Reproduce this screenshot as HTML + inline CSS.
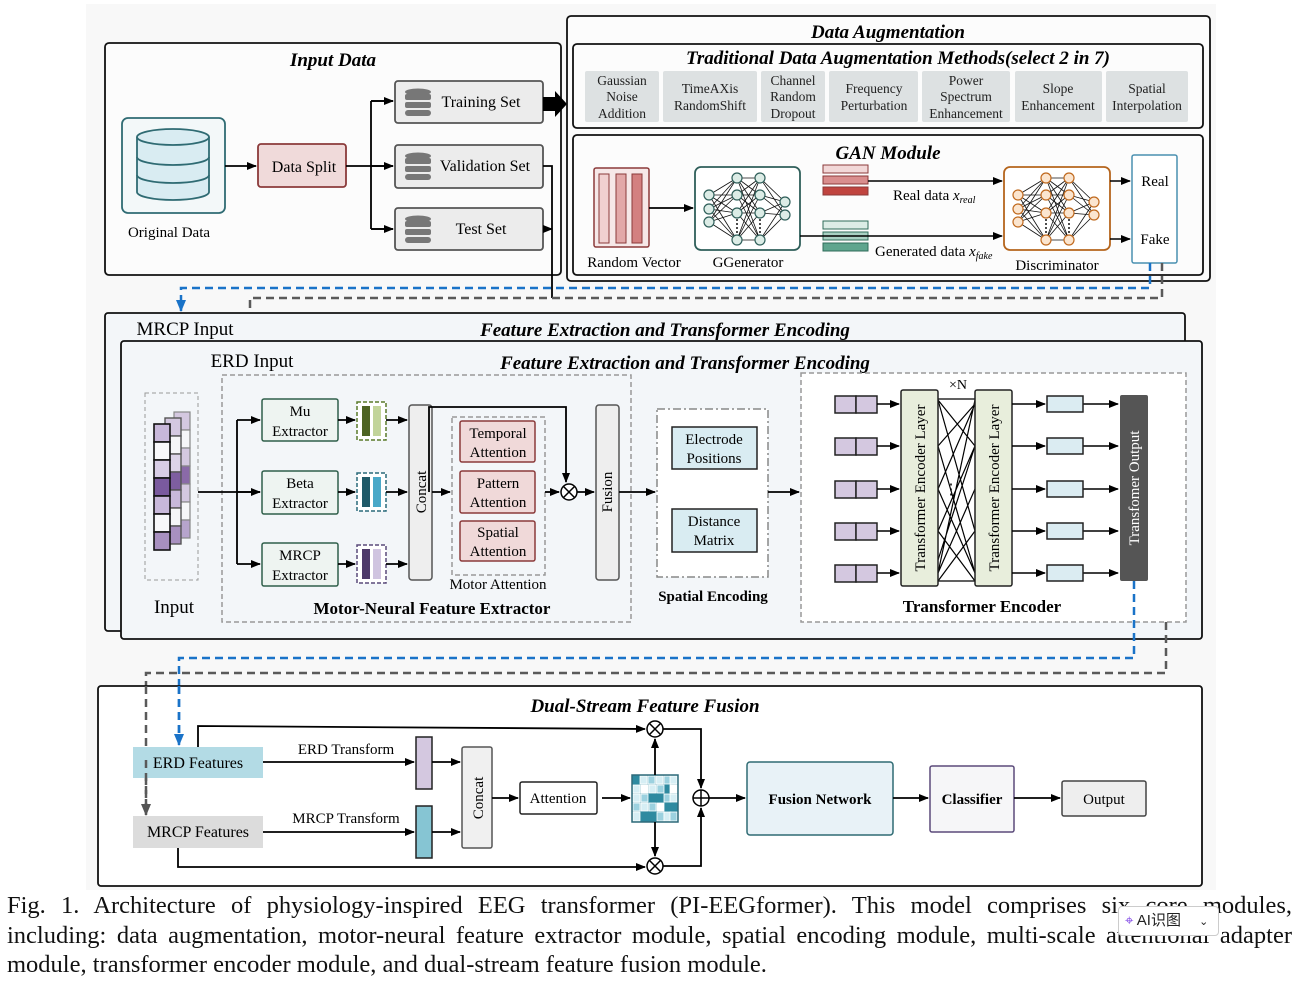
<!DOCTYPE html>
<html><head><meta charset="utf-8"><style>
html,body{margin:0;padding:0;background:#fff;}
body{width:1302px;height:985px;position:relative;overflow:hidden;font-family:"Liberation Serif",serif;}
svg{position:absolute;left:0;top:0;}
.cap{position:absolute;left:7px;width:1285px;font-size:24.5px;line-height:29px;color:#111;text-align:justify;text-align-last:justify;white-space:nowrap;}
.badge{position:absolute;left:1118px;top:906px;width:99px;height:28px;background:#fff;border:1px solid #ccc;border-radius:4px;font-family:"Liberation Sans","Noto Sans CJK SC",sans-serif;font-size:15px;line-height:28px;color:#222;}
</style></head><body>
<svg width="1302" height="985" viewBox="0 0 1302 985" font-family="Liberation Serif, serif">
<defs>
<marker id="a" markerWidth="10" markerHeight="8" refX="9" refY="4" orient="auto" markerUnits="userSpaceOnUse"><path d="M0,0 L10,4 L0,8z" fill="#000"/></marker>
<marker id="ab" markerWidth="12" markerHeight="10" refX="11" refY="5" orient="auto" markerUnits="userSpaceOnUse"><path d="M0,0 L12,5 L0,10z" fill="#1a73c8"/></marker>
<marker id="ag" markerWidth="12" markerHeight="10" refX="11" refY="5" orient="auto" markerUnits="userSpaceOnUse"><path d="M0,0 L12,5 L0,10z" fill="#555"/></marker>
<g id="db"><ellipse cx="13" cy="4" rx="13" ry="3.5" fill="#777"/><rect x="0" y="6" width="26" height="6" rx="2" fill="#777"/><rect x="0" y="14" width="26" height="6" rx="2" fill="#777"/><rect x="0" y="22" width="26" height="6" rx="3" fill="#777"/></g>
<g id="nnl" stroke="#111" stroke-width="0.8">
<path d="M14,28L42,11M14,28L42,28M14,28L42,46M14,28L42,73M14,42L42,11M14,42L42,28M14,42L42,46M14,42L42,73M14,55L42,11M14,55L42,28M14,55L42,46M14,55L42,73"/>
<path d="M42,11L65,11M42,11L65,28M42,11L65,46M42,11L65,73M42,28L65,11M42,28L65,28M42,28L65,46M42,28L65,73M42,46L65,11M42,46L65,28M42,46L65,46M42,46L65,73M42,73L65,11M42,73L65,28M42,73L65,46M42,73L65,73"/>
<path d="M65,11L90,35M65,11L90,48M65,28L90,35M65,28L90,48M65,46L90,35M65,46L90,48M65,73L90,35M65,73L90,48"/>
<path d="M42,52V68M65,52V68" stroke-dasharray="2,2" stroke-width="1.5"/>
</g>
<g id="nng"><use href="#nnl"/><g fill="#dcece6" stroke="#2f5f5a" stroke-width="1.2">
<circle cx="14" cy="28" r="5"/><circle cx="14" cy="42" r="5"/><circle cx="14" cy="55" r="5"/>
<circle cx="42" cy="11" r="5"/><circle cx="42" cy="28" r="5"/><circle cx="42" cy="46" r="5"/><circle cx="42" cy="73" r="5"/>
<circle cx="65" cy="11" r="5"/><circle cx="65" cy="28" r="5"/><circle cx="65" cy="46" r="5"/><circle cx="65" cy="73" r="5"/>
<circle cx="90" cy="35" r="5"/><circle cx="90" cy="48" r="5"/></g></g>
<g id="nno"><use href="#nnl"/><g fill="#fbe5cf" stroke="#c06a1f" stroke-width="1.2">
<circle cx="14" cy="28" r="5"/><circle cx="14" cy="42" r="5"/><circle cx="14" cy="55" r="5"/>
<circle cx="42" cy="11" r="5"/><circle cx="42" cy="28" r="5"/><circle cx="42" cy="46" r="5"/><circle cx="42" cy="73" r="5"/>
<circle cx="65" cy="11" r="5"/><circle cx="65" cy="28" r="5"/><circle cx="65" cy="46" r="5"/><circle cx="65" cy="73" r="5"/>
<circle cx="90" cy="35" r="5"/><circle cx="90" cy="48" r="5"/></g></g>
<g id="ot"><circle r="8" fill="#fff" stroke="#000" stroke-width="1.5"/><path d="M-5.6,-5.6L5.6,5.6M5.6,-5.6L-5.6,5.6" stroke="#000" stroke-width="1.5"/></g>
<g id="tokA"><rect x="0" y="0" width="21" height="17" fill="#d4c8e0" stroke="#222" stroke-width="1.5"/><rect x="21" y="0" width="21" height="17" fill="#d4c8e0" stroke="#222" stroke-width="1.5"/></g>
<g id="tokB"><rect x="0" y="0" width="36" height="16" fill="#dbecf2" stroke="#222" stroke-width="1.5"/></g>
</defs>

<rect x="86" y="4" width="1130" height="886" fill="#f8f8f8"/>

<rect x="105" y="43" width="456" height="232" rx="4" fill="#fcfcfc" stroke="#111" stroke-width="1.8"/>
<text x="333" y="66" font-size="19" font-weight="bold" font-style="italic" text-anchor="middle">Input Data</text>
<rect x="122" y="118" width="103" height="95" rx="6" fill="#f3f8f9" stroke="#2f6b73" stroke-width="1.8"/>
<path d="M137,137 V192 A36,8 0 0 0 209,192 V137" fill="#d9ecf2" stroke="#2f6b73" stroke-width="1.8"/>
<ellipse cx="173" cy="137" rx="36" ry="8" fill="#d9ecf2" stroke="#2f6b73" stroke-width="1.8"/>
<path d="M137,157 A36,8 0 0 0 209,157 M137,175 A36,8 0 0 0 209,175" fill="none" stroke="#2f6b73" stroke-width="1.8"/>
<text x="169" y="237" font-size="15" text-anchor="middle">Original Data</text>
<rect x="258" y="144" width="88" height="43" rx="3" fill="#f0dada" stroke="#8b3a3a" stroke-width="1.8"/>
<text x="304" y="172" font-size="16" text-anchor="middle">Data Split</text>
<path d="M225,166H256" stroke="#000" stroke-width="1.8" marker-end="url(#a)"/>
<path d="M346,166H393M371,101V229M371,101H393M371,229H393" stroke="#000" stroke-width="1.8" fill="none"/>
<path d="M371,101H393" stroke="#000" stroke-width="1.8" marker-end="url(#a)"/>
<path d="M371,166H393" stroke="#000" stroke-width="1.8" marker-end="url(#a)"/>
<path d="M371,229H393" stroke="#000" stroke-width="1.8" marker-end="url(#a)"/>
<rect x="395" y="81" width="148" height="42" rx="3" fill="#ececec" stroke="#555" stroke-width="1.8"/>
<rect x="395" y="145" width="148" height="43" rx="3" fill="#ececec" stroke="#555" stroke-width="1.8"/>
<rect x="395" y="208" width="148" height="42" rx="3" fill="#ececec" stroke="#555" stroke-width="1.8"/>
<use href="#db" x="405" y="88"/><use href="#db" x="405" y="152"/><use href="#db" x="405" y="215"/>
<text x="481" y="107" font-size="16" text-anchor="middle">Training Set</text>
<text x="485" y="171" font-size="16" text-anchor="middle">Validation Set</text>
<text x="481" y="234" font-size="16" text-anchor="middle">Test Set</text>
<path d="M543,97H555V91L567,104L555,117V111H543z" fill="#000"/>
<path d="M543,166H552V298M543,229H552" stroke="#000" stroke-width="1.8" fill="none" marker-end="url(#a)"/>

<rect x="567" y="16" width="643" height="265" rx="4" fill="#fcfcfc" stroke="#111" stroke-width="1.8"/>
<text x="888" y="38" font-size="19" font-weight="bold" font-style="italic" text-anchor="middle">Data Augmentation</text>
<rect x="573" y="44" width="630" height="84" rx="4" fill="#fcfcfc" stroke="#111" stroke-width="1.8"/>
<text x="898" y="64" font-size="19" font-weight="bold" font-style="italic" text-anchor="middle">Traditional Data Augmentation Methods(select 2 in 7)</text>
<g fill="#dde1e2"><rect x="585" y="71" width="74" height="51" rx="2"/><rect x="663" y="71" width="94" height="51" rx="2"/><rect x="761" y="71" width="64" height="51" rx="2"/><rect x="829" y="71" width="89" height="51" rx="2"/><rect x="922" y="71" width="88" height="51" rx="2"/><rect x="1015" y="71" width="87" height="51" rx="2"/><rect x="1106" y="71" width="82" height="51" rx="2"/></g>
<g font-size="13.5" text-anchor="middle" fill="#222">
<text x="622" y="85">Gaussian</text><text x="622" y="101">Noise</text><text x="622" y="118">Addition</text>
<text x="710" y="93">TimeAXis</text><text x="710" y="110">RandomShift</text>
<text x="793" y="85">Channel</text><text x="793" y="101">Random</text><text x="793" y="118">Dropout</text>
<text x="874" y="93">Frequency</text><text x="874" y="110">Perturbation</text>
<text x="966" y="85">Power</text><text x="966" y="101">Spectrum</text><text x="966" y="118">Enhancement</text>
<text x="1058" y="93">Slope</text><text x="1058" y="110">Enhancement</text>
<text x="1147" y="93">Spatial</text><text x="1147" y="110">Interpolation</text></g>
<rect x="573" y="135" width="630" height="140" rx="4" fill="#fcfcfc" stroke="#111" stroke-width="1.8"/>
<text x="888" y="159" font-size="19" font-weight="bold" font-style="italic" text-anchor="middle">GAN Module</text>
<rect x="594" y="168" width="55" height="79" rx="2" fill="#f6e8e8" stroke="#8b3a3a" stroke-width="1.5"/>
<rect x="599" y="174" width="10" height="69" fill="#f0d0d0" stroke="#8b3a3a"/><rect x="616" y="174" width="10" height="69" fill="#e2a8a8" stroke="#8b3a3a"/><rect x="632" y="174" width="10" height="69" fill="#d38080" stroke="#8b3a3a"/>
<text x="634" y="267" font-size="15" text-anchor="middle">Random Vector</text>
<path d="M649,208H693" stroke="#000" stroke-width="1.8" marker-end="url(#a)"/>
<rect x="695" y="167" width="105" height="83" rx="6" fill="#fff" stroke="#2f5f5a" stroke-width="1.8"/>
<use href="#nng" x="695" y="167"/>
<text x="748" y="267" font-size="15" text-anchor="middle">GGenerator</text>
<rect x="823" y="165" width="45" height="8" fill="#f2d8d8" stroke="#8b3a3a"/><rect x="823" y="176" width="45" height="8" fill="#d98e8e" stroke="#8b3a3a"/><rect x="823" y="187" width="45" height="8" fill="#c0443f" stroke="#8b3a3a"/>
<rect x="823" y="221" width="45" height="8" fill="#dcece6" stroke="#2f6b5a"/><rect x="823" y="232" width="45" height="8" fill="#a9d0c3" stroke="#2f6b5a"/><rect x="823" y="243" width="45" height="8" fill="#5fa58e" stroke="#2f6b5a"/>
<path d="M868,181H1002" stroke="#000" stroke-width="1.5" marker-end="url(#a)"/>
<path d="M800,236H1002" stroke="#000" stroke-width="1.5" marker-end="url(#a)"/>
<text x="893" y="200" font-size="15">Real data <tspan font-style="italic">x</tspan><tspan font-style="italic" font-size="10" dy="3">real</tspan></text>
<text x="875" y="256" font-size="15">Generated data <tspan font-style="italic">x</tspan><tspan font-style="italic" font-size="10" dy="3">fake</tspan></text>
<rect x="1004" y="167" width="106" height="83" rx="6" fill="#fff" stroke="#b5651d" stroke-width="1.8"/>
<use href="#nno" x="1004" y="167"/>
<text x="1057" y="270" font-size="15" text-anchor="middle">Discriminator</text>
<path d="M1110,239H1130" stroke="#000" stroke-width="1.5" marker-end="url(#a)"/>
<path d="M1110,181H1130" stroke="#000" stroke-width="1.5" marker-end="url(#a)"/>
<rect x="1132" y="155" width="45" height="108" rx="2" fill="#fff" stroke="#4a90b0" stroke-width="1.5"/>
<text x="1155" y="186" font-size="15" text-anchor="middle">Real</text>
<text x="1155" y="244" font-size="15" text-anchor="middle">Fake</text>

<path d="M1150,263V288H181V311" stroke="#1a73c8" stroke-width="2.5" fill="none" stroke-dasharray="8,5" marker-end="url(#ab)"/>
<path d="M1162,263V298H250V343" stroke="#5a5a5a" stroke-width="2.5" fill="none" stroke-dasharray="8,5" marker-end="url(#ag)"/>

<rect x="105" y="313" width="1080" height="318" rx="3" fill="#f3f6f9" stroke="#111" stroke-width="1.8"/>
<text x="665" y="336" font-size="19" font-weight="bold" font-style="italic" text-anchor="middle">Feature  Extraction and Transformer Encoding</text>
<text x="185" y="335" font-size="19" text-anchor="middle">MRCP Input</text>
<rect x="121" y="341" width="1081" height="298" rx="3" fill="#f3f6f9" stroke="#111" stroke-width="1.8"/>
<text x="685" y="369" font-size="19" font-weight="bold" font-style="italic" text-anchor="middle">Feature  Extraction and Transformer Encoding</text>
<text x="252" y="367" font-size="19" text-anchor="middle">ERD Input</text>

<rect x="145" y="393" width="53" height="187" fill="none" stroke="#999" stroke-dasharray="4,3"/>
<g stroke="#888" stroke-width="1.2">
<rect x="174" y="412" width="16" height="18" fill="#d4c8e0"/><rect x="174" y="430" width="16" height="18" fill="#f6f6f8"/><rect x="174" y="448" width="16" height="18" fill="#d4c8e0"/><rect x="174" y="466" width="16" height="18" fill="#8a6aa8"/><rect x="174" y="484" width="16" height="18" fill="#d4c8e0"/><rect x="174" y="502" width="16" height="18" fill="#f6f6f8"/><rect x="174" y="520" width="16" height="18" fill="#b6a4cc"/></g>
<g stroke="#555" stroke-width="1.4">
<rect x="165" y="418" width="16" height="18" fill="#d4c8e0"/><rect x="165" y="436" width="16" height="18" fill="#f6f6f8"/><rect x="165" y="454" width="16" height="18" fill="#ddd4e8"/><rect x="165" y="472" width="16" height="18" fill="#7e5ea0"/><rect x="165" y="490" width="16" height="18" fill="#c8b8da"/><rect x="165" y="508" width="16" height="18" fill="#f6f6f8"/><rect x="165" y="526" width="16" height="18" fill="#a890c0"/></g>
<g stroke="#111" stroke-width="1.6">
<rect x="154" y="424" width="16" height="18" fill="#c8b8da"/><rect x="154" y="442" width="16" height="18" fill="#f8f8fa"/><rect x="154" y="460" width="16" height="18" fill="#d8cde6"/><rect x="154" y="478" width="16" height="18" fill="#7a5a9e"/><rect x="154" y="496" width="16" height="18" fill="#c8b8da"/><rect x="154" y="514" width="16" height="18" fill="#f8f8fa"/><rect x="154" y="532" width="16" height="18" fill="#a890c0"/></g>
<text x="174" y="613" font-size="19" text-anchor="middle">Input</text>

<rect x="222" y="375" width="409" height="247" fill="none" stroke="#999" stroke-width="1.5" stroke-dasharray="5,3"/>
<text x="432" y="614" font-size="17" font-weight="bold" text-anchor="middle">Motor-Neural Feature Extractor</text>
<path d="M198,492H260M237,420V564" stroke="#000" stroke-width="1.8" fill="none"/>
<path d="M237,420H260" stroke="#000" stroke-width="1.8" marker-end="url(#a)"/>
<path d="M237,492H260" stroke="#000" stroke-width="1.8" marker-end="url(#a)"/>
<path d="M237,564H260" stroke="#000" stroke-width="1.8" marker-end="url(#a)"/>
<g fill="#eef4f1" stroke="#2f5f4a" stroke-width="1.5">
<rect x="262" y="399" width="76" height="42" rx="2"/><rect x="262" y="471" width="76" height="43" rx="2"/><rect x="262" y="543" width="76" height="43" rx="2"/></g>
<g font-size="15" text-anchor="middle"><text x="300" y="416">Mu</text><text x="300" y="436">Extractor</text>
<text x="300" y="488">Beta</text><text x="300" y="508">Extractor</text>
<text x="300" y="560">MRCP</text><text x="300" y="580">Extractor</text></g>
<path d="M338,420H355" stroke="#000" stroke-width="1.8" marker-end="url(#a)"/><path d="M338,492H355" stroke="#000" stroke-width="1.8" marker-end="url(#a)"/><path d="M338,564H355" stroke="#000" stroke-width="1.8" marker-end="url(#a)"/>
<rect x="357" y="402" width="29" height="38" fill="#fff" stroke="#5a7a2a" stroke-width="1.5" stroke-dasharray="4,2"/><rect x="362" y="406" width="8" height="30" fill="#4e6424"/><rect x="373" y="406" width="8" height="30" fill="#c2d49a"/>
<rect x="357" y="473" width="29" height="38" fill="#fff" stroke="#2a6a7a" stroke-width="1.5" stroke-dasharray="4,2"/><rect x="362" y="477" width="8" height="30" fill="#205a68"/><rect x="373" y="477" width="8" height="30" fill="#4aa8c8"/>
<rect x="357" y="545" width="29" height="38" fill="#fff" stroke="#5a4a7a" stroke-width="1.5" stroke-dasharray="4,2"/><rect x="362" y="549" width="8" height="30" fill="#4e3a6a"/><rect x="373" y="549" width="8" height="30" fill="#d0c4e0"/>
<path d="M386,420H407" stroke="#000" stroke-width="1.8" marker-end="url(#a)"/><path d="M386,492H407" stroke="#000" stroke-width="1.8" marker-end="url(#a)"/><path d="M386,564H407" stroke="#000" stroke-width="1.8" marker-end="url(#a)"/>
<rect x="409" y="405" width="23" height="175" rx="3" fill="#eee" stroke="#555" stroke-width="1.5"/>
<text transform="translate(426,492) rotate(-90)" font-size="15" text-anchor="middle">Concat</text>
<path d="M432,492H450" stroke="#000" stroke-width="1.8" marker-end="url(#a)"/>
<path d="M429,492V407H566V482" stroke="#000" stroke-width="1.8" fill="none" marker-end="url(#a)"/>
<rect x="452" y="417" width="93" height="158" fill="none" stroke="#999" stroke-width="1.5" stroke-dasharray="5,3"/>
<g fill="#f0d9d9" stroke="#8b3a3a" stroke-width="1.5"><rect x="460" y="421" width="75" height="41" rx="2"/><rect x="460" y="471" width="75" height="42" rx="2"/><rect x="460" y="521" width="75" height="40" rx="2"/></g>
<g font-size="15" text-anchor="middle"><text x="498" y="438">Temporal</text><text x="498" y="457">Attention</text>
<text x="498" y="488">Pattern</text><text x="498" y="507">Attention</text>
<text x="498" y="537">Spatial</text><text x="498" y="556">Attention</text></g>
<text x="498" y="589" font-size="15" text-anchor="middle">Motor Attention</text>
<path d="M545,492H559" stroke="#000" stroke-width="1.8" marker-end="url(#a)"/>
<use href="#ot" x="569" y="492"/>
<path d="M577,492H594" stroke="#000" stroke-width="1.8" marker-end="url(#a)"/>
<rect x="596" y="405" width="23" height="175" rx="3" fill="#eee" stroke="#555" stroke-width="1.5"/>
<text transform="translate(612,492) rotate(-90)" font-size="15" text-anchor="middle">Fusion</text>
<path d="M619,492H655" stroke="#000" stroke-width="1.8" marker-end="url(#a)"/>

<rect x="657" y="409" width="111" height="168" fill="#fff" stroke="#888" stroke-width="1.5" stroke-dasharray="8,3,2,3"/>
<rect x="672" y="427" width="85" height="42" fill="#d9ecf2" stroke="#222" stroke-width="1.5"/>
<rect x="672" y="509" width="85" height="43" fill="#d9ecf2" stroke="#222" stroke-width="1.5"/>
<g font-size="15" text-anchor="middle"><text x="714" y="444">Electrode</text><text x="714" y="463">Positions</text><text x="714" y="526">Distance</text><text x="714" y="545">Matrix</text></g>
<text x="713" y="601" font-size="15" font-weight="bold" text-anchor="middle">Spatial Encoding</text>
<path d="M768,492H799" stroke="#000" stroke-width="1.8" marker-end="url(#a)"/>

<rect x="801" y="373" width="385" height="249" fill="#fff" stroke="#999" stroke-width="1.5" stroke-dasharray="5,3"/>
<text x="982" y="612" font-size="17" font-weight="bold" text-anchor="middle">Transformer Encoder</text>
<use href="#tokA" x="835" y="396"/><use href="#tokA" x="835" y="438"/><use href="#tokA" x="835" y="481"/><use href="#tokA" x="835" y="523"/><use href="#tokA" x="835" y="565"/>
<g stroke="#000" stroke-width="1.5"><path d="M877,404H899" marker-end="url(#a)"/><path d="M877,446H899" marker-end="url(#a)"/><path d="M877,489H899" marker-end="url(#a)"/><path d="M877,531H899" marker-end="url(#a)"/><path d="M877,573H899" marker-end="url(#a)"/></g>
<g stroke="#000" stroke-width="1.2" fill="none">
<path d="M938,399H975M938,581H975M938,400L975,446M938,400L975,531M938,446L975,404M938,446L975,573M938,489L975,404M938,489L975,573M938,531L975,446M938,531L975,581M938,573L975,489M938,573L975,400M938,581L975,531M938,560L975,446"/></g>
<text x="951" y="494" font-size="15" text-anchor="middle">⋮</text>
<text x="958" y="389" font-size="14" text-anchor="middle">×N</text>
<rect x="901" y="390" width="37" height="196" rx="2" fill="#e8eedc" stroke="#222" stroke-width="1.5"/>
<rect x="975" y="390" width="37" height="196" rx="2" fill="#e8eedc" stroke="#222" stroke-width="1.5"/>
<text transform="translate(925,488) rotate(-90)" font-size="15" text-anchor="middle">Transformer Encoder Layer</text>
<text transform="translate(999,488) rotate(-90)" font-size="15" text-anchor="middle">Transformer Encoder Layer</text>
<g stroke="#000" stroke-width="1.5"><path d="M1012,404H1045" marker-end="url(#a)"/><path d="M1012,446H1045" marker-end="url(#a)"/><path d="M1012,489H1045" marker-end="url(#a)"/><path d="M1012,531H1045" marker-end="url(#a)"/><path d="M1012,573H1045" marker-end="url(#a)"/>
<path d="M1083,404H1118" marker-end="url(#a)"/><path d="M1083,446H1118" marker-end="url(#a)"/><path d="M1083,489H1118" marker-end="url(#a)"/><path d="M1083,531H1118" marker-end="url(#a)"/><path d="M1083,573H1118" marker-end="url(#a)"/></g>
<use href="#tokB" x="1047" y="396"/><use href="#tokB" x="1047" y="438"/><use href="#tokB" x="1047" y="481"/><use href="#tokB" x="1047" y="523"/><use href="#tokB" x="1047" y="565"/>
<rect x="1120" y="395" width="28" height="186" rx="2" fill="#555"/>
<text transform="translate(1139,488) rotate(-90)" font-size="15" fill="#fff" text-anchor="middle">Transfomer Output</text>

<path d="M1134,581V658H179V743" stroke="#1a73c8" stroke-width="2.5" fill="none" stroke-dasharray="8,5" marker-end="url(#ab)"/>
<path d="M1166,622V673H146V813" stroke="#5a5a5a" stroke-width="2.5" fill="none" stroke-dasharray="8,5" marker-end="url(#ag)"/>

<rect x="98" y="686" width="1104" height="200" rx="3" fill="#fff" stroke="#111" stroke-width="1.8"/>
<text x="645" y="712" font-size="19" font-weight="bold" font-style="italic" text-anchor="middle">Dual-Stream Feature Fusion</text>
<path d="M179,686V743" stroke="#1a73c8" stroke-width="2.5" stroke-dasharray="8,5"/>
<path d="M146,686V813" stroke="#5a5a5a" stroke-width="2.5" stroke-dasharray="8,5"/>
<rect x="133" y="747" width="130" height="31" fill="#b3dbe5"/>
<rect x="133" y="816" width="130" height="32" fill="#dcdcdc"/>
<path d="M179,686V745" stroke="#1a73c8" stroke-width="2.5" fill="none" stroke-dasharray="8,5" marker-end="url(#ab)"/>
<path d="M146,760V815" stroke="#5a5a5a" stroke-width="2.5" fill="none" stroke-dasharray="8,5" marker-end="url(#ag)"/>
<text x="198" y="768" font-size="16" text-anchor="middle">ERD Features</text>
<text x="198" y="837" font-size="16" text-anchor="middle">MRCP Features</text>
<path d="M198,747V726L645,729" stroke="#000" stroke-width="1.8" fill="none" marker-end="url(#a)"/>
<path d="M178,848V867H645" stroke="#000" stroke-width="1.8" fill="none" marker-end="url(#a)"/>
<path d="M263,762H414" stroke="#000" stroke-width="1.8" marker-end="url(#a)"/>
<path d="M263,832H414" stroke="#000" stroke-width="1.8" marker-end="url(#a)"/>
<text x="346" y="754" font-size="15" text-anchor="middle">ERD Transform</text>
<text x="346" y="823" font-size="15" text-anchor="middle">MRCP Transform</text>
<rect x="416" y="737" width="16" height="52" fill="#d4c8e0" stroke="#222" stroke-width="1.5"/>
<rect x="416" y="806" width="16" height="52" fill="#86c5d3" stroke="#222" stroke-width="1.5"/>
<path d="M432,762H460" stroke="#000" stroke-width="1.8" marker-end="url(#a)"/>
<path d="M432,832H460" stroke="#000" stroke-width="1.8" marker-end="url(#a)"/>
<rect x="462" y="747" width="30" height="101" rx="2" fill="#f0f0f0" stroke="#555" stroke-width="1.5"/>
<text transform="translate(483,798) rotate(-90)" font-size="15" text-anchor="middle">Concat</text>
<path d="M492,798H518" stroke="#000" stroke-width="1.8" marker-end="url(#a)"/>
<rect x="520" y="782" width="77" height="32" rx="2" fill="#fff" stroke="#222" stroke-width="1.5"/>
<text x="558" y="803" font-size="15" text-anchor="middle">Attention</text>
<path d="M602,798H630" stroke="#000" stroke-width="1.8" marker-end="url(#a)"/>
<g stroke="#fff" stroke-width="0.8">
<rect x="632" y="775" width="46" height="47" fill="#2e8aa0"/>
<rect x="640" y="776" width="7" height="8" fill="#d6eef4"/><rect x="648" y="776" width="7" height="8" fill="#9cd1df"/><rect x="656" y="776" width="7" height="8" fill="#d6eef4"/><rect x="664" y="776" width="7" height="8" fill="#9cd1df"/><rect x="670" y="776" width="7" height="8" fill="#d6eef4"/>
<rect x="633" y="785" width="7" height="8" fill="#d6eef4"/><rect x="641" y="785" width="7" height="8" fill="#fff"/><rect x="649" y="785" width="7" height="8" fill="#d6eef4"/><rect x="657" y="785" width="7" height="8" fill="#9cd1df"/><rect x="670" y="785" width="7" height="8" fill="#fff"/>
<rect x="633" y="794" width="7" height="8" fill="#d6eef4"/><rect x="641" y="794" width="7" height="8" fill="#9cd1df"/><rect x="664" y="794" width="7" height="8" fill="#9cd1df"/><rect x="670" y="794" width="7" height="8" fill="#d6eef4"/>
<rect x="633" y="803" width="7" height="8" fill="#9cd1df"/><rect x="641" y="803" width="7" height="8" fill="#d6eef4"/><rect x="649" y="803" width="7" height="8" fill="#9cd1df"/><rect x="657" y="803" width="7" height="8" fill="#fff"/>
<rect x="633" y="812" width="7" height="9" fill="#d6eef4"/><rect x="657" y="812" width="7" height="9" fill="#9cd1df"/><rect x="664" y="812" width="7" height="9" fill="#d6eef4"/><rect x="670" y="812" width="7" height="9" fill="#9cd1df"/></g>
<rect x="632" y="775" width="46" height="47" fill="none" stroke="#2e6a7a" stroke-width="1.5"/>
<path d="M655,775V739" stroke="#000" stroke-width="1.8" marker-end="url(#a)"/>
<path d="M655,822V856" stroke="#000" stroke-width="1.8" marker-end="url(#a)"/>
<use href="#ot" x="655" y="729"/><use href="#ot" x="655" y="866"/>
<path d="M663,729H701V788" stroke="#000" stroke-width="1.8" fill="none" marker-end="url(#a)"/>
<path d="M663,866H701V808" stroke="#000" stroke-width="1.8" fill="none" marker-end="url(#a)"/>
<circle cx="701" cy="798" r="8" fill="#fff" stroke="#000" stroke-width="1.5"/><path d="M693,798H709M701,790V806" stroke="#000" stroke-width="1.5"/>
<path d="M709,798H745" stroke="#000" stroke-width="1.8" marker-end="url(#a)"/>
<rect x="747" y="762" width="146" height="73" rx="3" fill="#e8f2f7" stroke="#2f6b73" stroke-width="1.5"/>
<text x="820" y="804" font-size="15" font-weight="bold" text-anchor="middle">Fusion Network</text>
<path d="M893,798H928" stroke="#000" stroke-width="1.8" marker-end="url(#a)"/>
<rect x="930" y="766" width="84" height="66" rx="2" fill="#f6f6f8" stroke="#5b4a7a" stroke-width="1.5"/>
<text x="972" y="804" font-size="15" font-weight="bold" text-anchor="middle">Classifier</text>
<path d="M1014,798H1060" stroke="#000" stroke-width="1.8" marker-end="url(#a)"/>
<rect x="1062" y="781" width="84" height="35" rx="2" fill="#eee" stroke="#444" stroke-width="1.5"/>
<text x="1104" y="804" font-size="15" text-anchor="middle">Output</text>
</svg>
<div class="cap" style="top:891px">Fig. 1. Architecture of physiology-inspired EEG transformer (PI-EEGformer). This model comprises six core modules,</div>
<div class="cap" style="top:921px">including: data augmentation, motor-neural feature extractor module, spatial encoding module, multi-scale attentional adapter</div>
<div class="cap" style="top:950px;text-align-last:left">module, transformer encoder module, and dual-stream feature fusion module.</div>
<div class="badge"><span style="color:#7b3fe4;margin-left:6px;">⌖</span> AI识图 <span style="margin-left:14px;font-size:11px">⌄</span></div>
</body></html>
